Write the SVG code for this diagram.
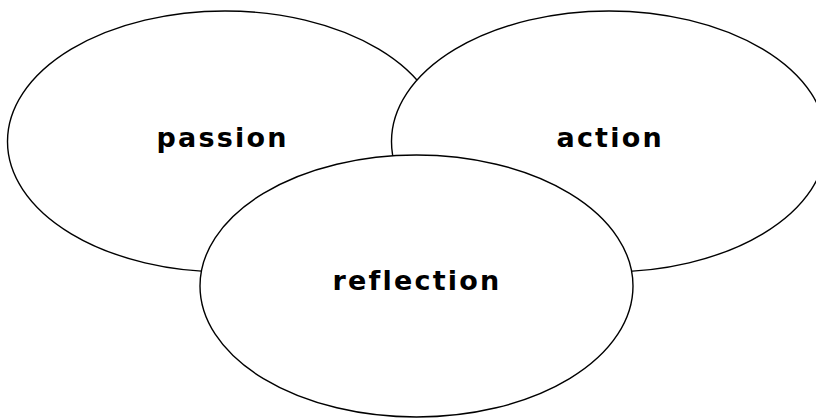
<svg xmlns="http://www.w3.org/2000/svg" width="816" height="420" viewBox="0 0 816 420">
<style>
.e{fill:#fff;stroke:#000;stroke-width:1.4}
.t{font-family:"DejaVu Sans",Verdana,sans-serif;font-weight:bold;font-size:27px;letter-spacing:2.2px;fill:#000}
</style>
<rect width="816" height="420" fill="#fff"/>
<g id="passion"><ellipse class="e" cx="225" cy="141.5" rx="217.5" ry="130.5"/><text class="t" x="156.5" y="147">passion</text></g>
<g id="action"><ellipse class="e" cx="609" cy="141.5" rx="217.5" ry="130.5"/><text class="t" x="556.5" y="147">action</text></g>
<g id="reflection"><ellipse class="e" cx="416.5" cy="286" rx="216.5" ry="131"/><text class="t" x="332.5" y="290">reflection</text></g>
<g id="connectors"/>
</svg>
